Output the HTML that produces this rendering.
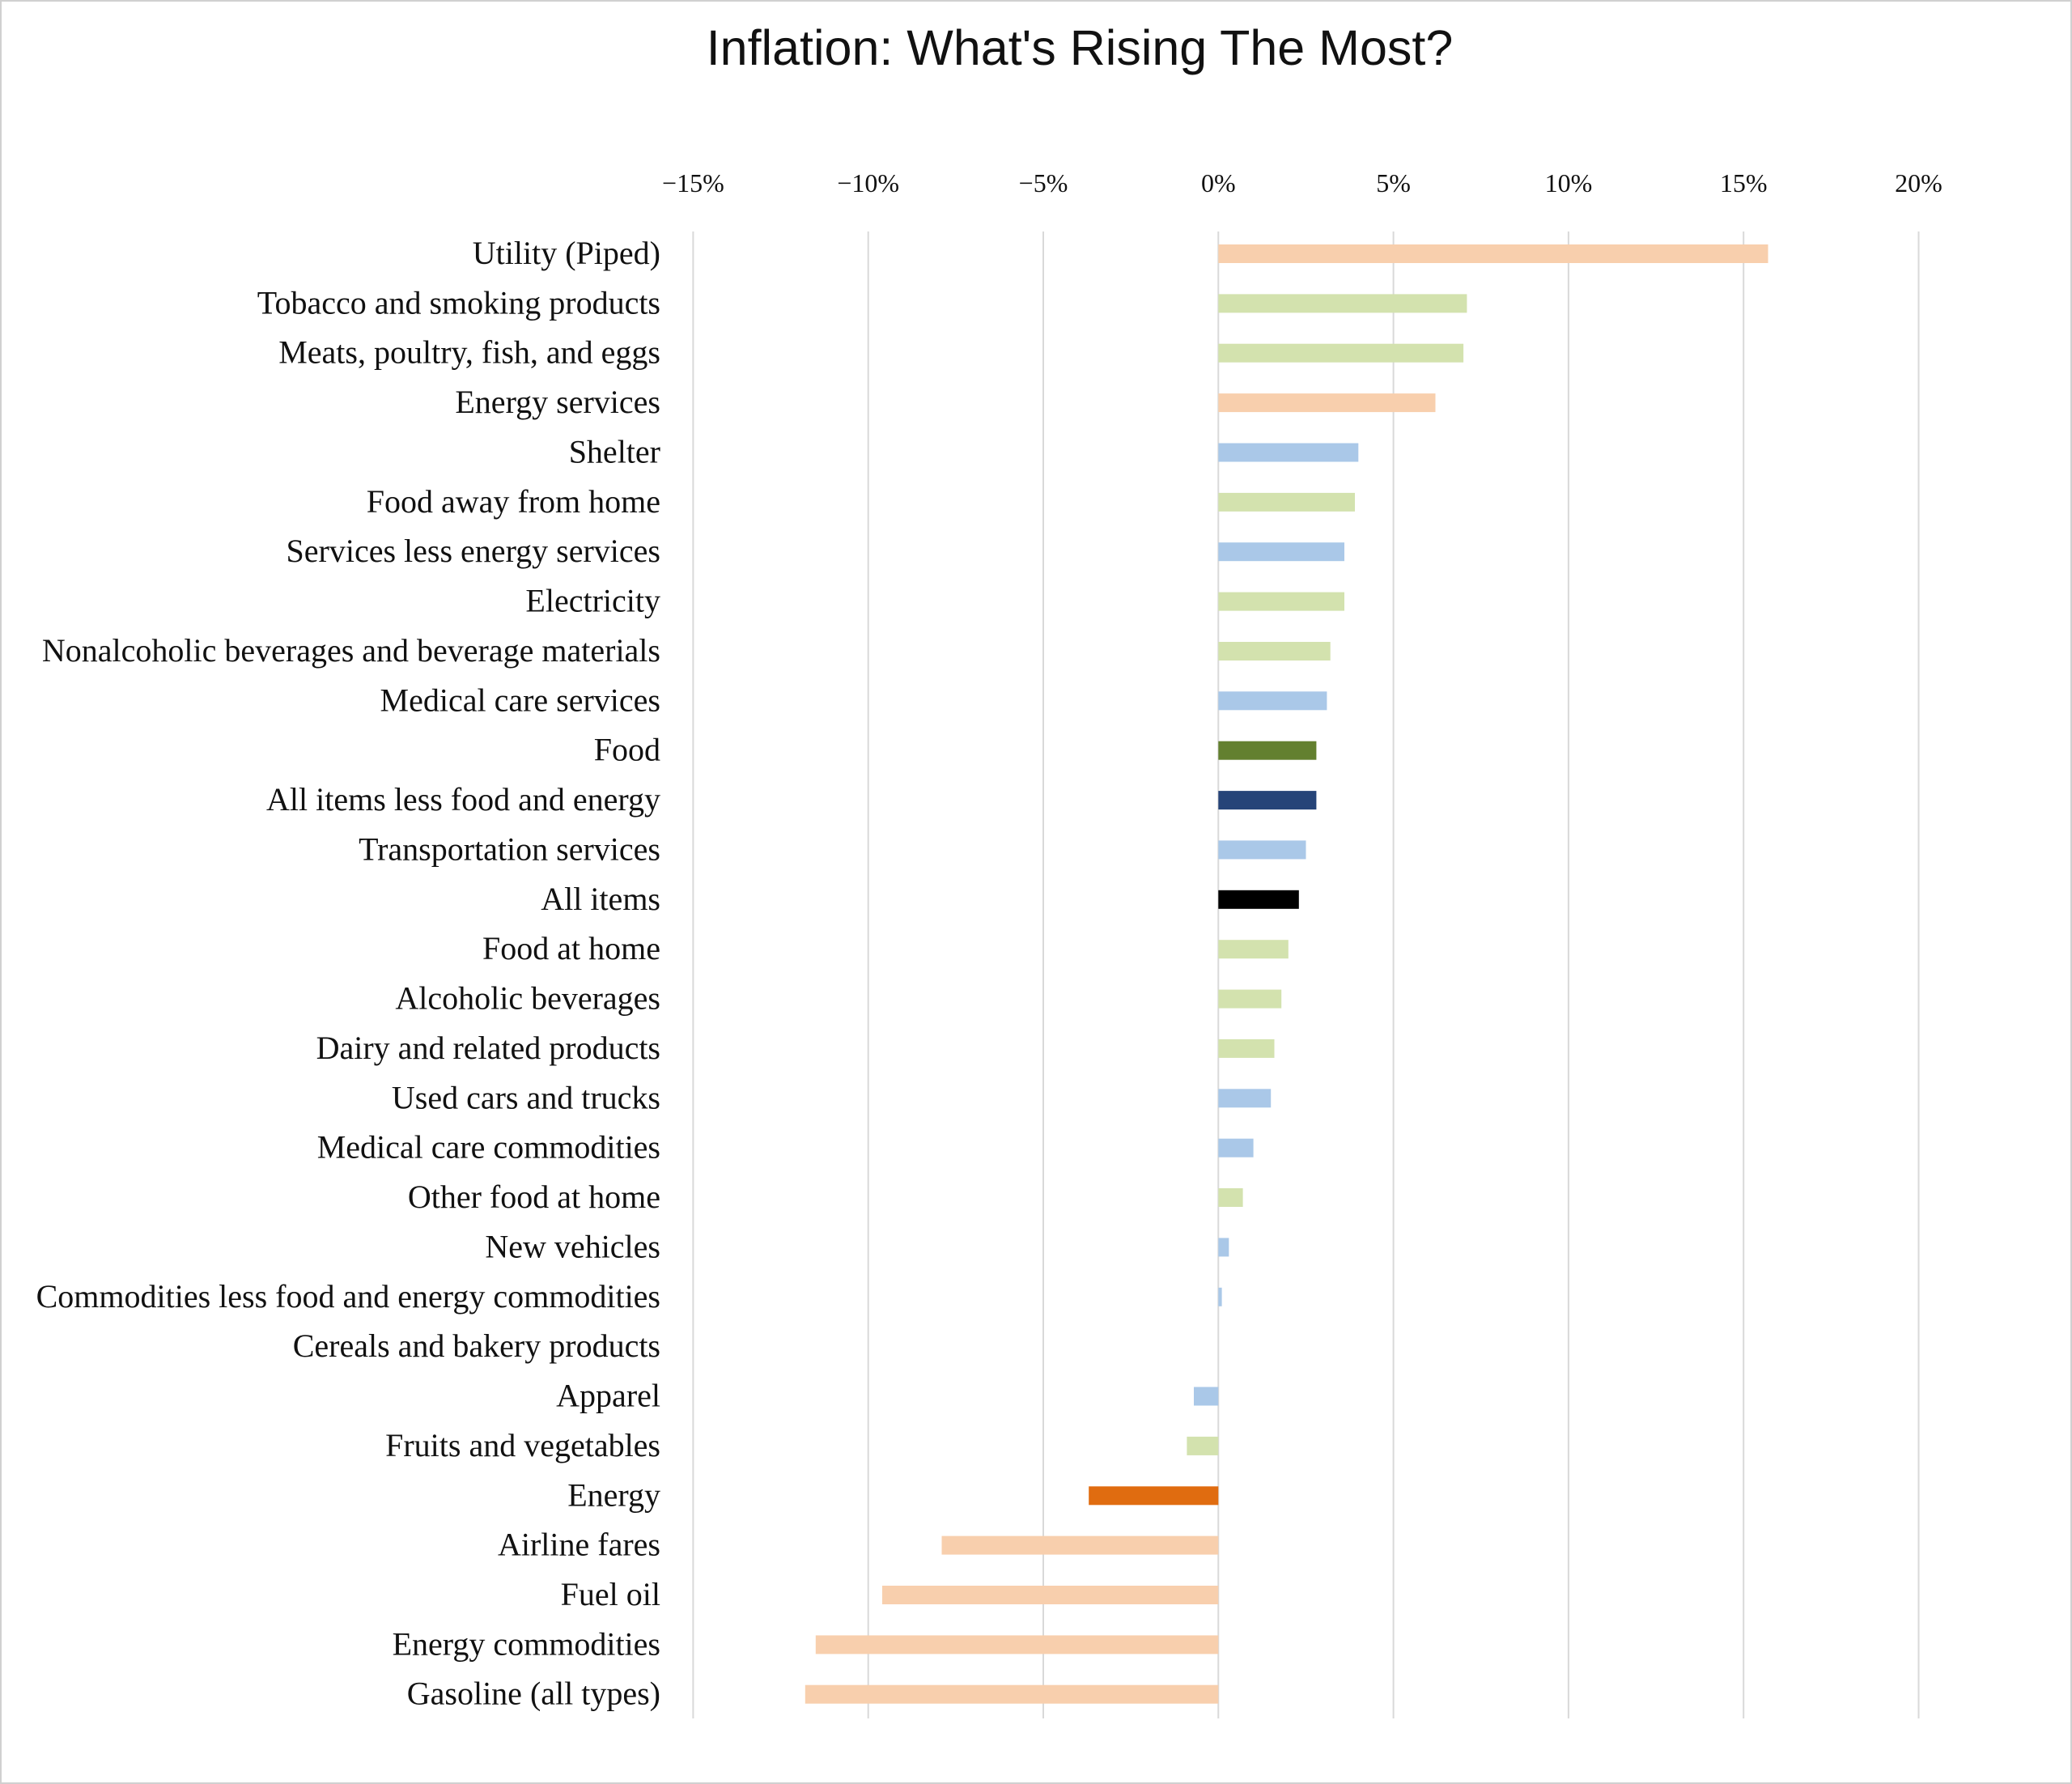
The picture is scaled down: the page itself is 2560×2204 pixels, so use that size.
<!DOCTYPE html>
<html><head><meta charset="utf-8"><style>html,body{margin:0;padding:0;background:#fff}svg{display:block}</style></head><body>
<svg width="2560" height="2204" viewBox="0 0 2560 2204" xmlns="http://www.w3.org/2000/svg">
<rect x="1" y="1" width="2558" height="2202" fill="#fff" stroke="#d0d0d0" stroke-width="2"/>
<text x="1334" y="80" text-anchor="middle" font-family="Liberation Sans, sans-serif" font-size="61" fill="#111">Inflation: What's Rising The Most?</text>
<g stroke="#d9d9d9" stroke-width="2">
<line x1="856.4" y1="286" x2="856.4" y2="2123"/><line x1="1072.7" y1="286" x2="1072.7" y2="2123"/>
<line x1="1289" y1="286" x2="1289" y2="2123"/><line x1="1505.3" y1="286" x2="1505.3" y2="2123"/>
<line x1="1721.6" y1="286" x2="1721.6" y2="2123"/><line x1="1937.9" y1="286" x2="1937.9" y2="2123"/>
<line x1="2154.2" y1="286" x2="2154.2" y2="2123"/><line x1="2370.5" y1="286" x2="2370.5" y2="2123"/>
</g>
<g font-family="Liberation Serif, serif" font-size="32" fill="#111" text-anchor="middle">
<text x="856.4" y="237">−15%</text><text x="1072.7" y="237">−10%</text><text x="1289" y="237">−5%</text>
<text x="1505.3" y="237">0%</text><text x="1721.6" y="237">5%</text><text x="1937.9" y="237">10%</text>
<text x="2154.2" y="237">15%</text><text x="2370.5" y="237">20%</text>
</g>
<g>
<rect x="1505.3" y="302" width="679.2" height="23" fill="#f8cfad"/>
<rect x="1505.3" y="363.4" width="307.1" height="23" fill="#d3e2ae"/>
<rect x="1505.3" y="424.7" width="302.8" height="23" fill="#d3e2ae"/>
<rect x="1505.3" y="486.1" width="268.2" height="23" fill="#f8cfad"/>
<rect x="1505.3" y="547.5" width="173" height="23" fill="#aac8e8"/>
<rect x="1505.3" y="608.9" width="168.7" height="23" fill="#d3e2ae"/>
<rect x="1505.3" y="670.2" width="155.7" height="23" fill="#aac8e8"/>
<rect x="1505.3" y="731.6" width="155.7" height="23" fill="#d3e2ae"/>
<rect x="1505.3" y="793" width="138.4" height="23" fill="#d3e2ae"/>
<rect x="1505.3" y="854.3" width="134.1" height="23" fill="#aac8e8"/>
<rect x="1505.3" y="915.7" width="121.1" height="23" fill="#63802f"/>
<rect x="1505.3" y="977.1" width="121.1" height="23" fill="#264478"/>
<rect x="1505.3" y="1038.4" width="108.2" height="23" fill="#aac8e8"/>
<rect x="1505.3" y="1099.8" width="99.5" height="23" fill="#000"/>
<rect x="1505.3" y="1161.2" width="86.5" height="23" fill="#d3e2ae"/>
<rect x="1505.3" y="1222.6" width="77.9" height="23" fill="#d3e2ae"/>
<rect x="1505.3" y="1283.9" width="69.2" height="23" fill="#d3e2ae"/>
<rect x="1505.3" y="1345.3" width="64.9" height="23" fill="#aac8e8"/>
<rect x="1505.3" y="1406.7" width="43.3" height="23" fill="#aac8e8"/>
<rect x="1505.3" y="1468" width="30.3" height="23" fill="#d3e2ae"/>
<rect x="1505.3" y="1529.4" width="13" height="23" fill="#aac8e8"/>
<rect x="1505.3" y="1590.8" width="4.3" height="23" fill="#aac8e8"/>
<rect x="1475" y="1713.5" width="30.3" height="23" fill="#aac8e8"/>
<rect x="1466.4" y="1774.9" width="38.9" height="23" fill="#d3e2ae"/>
<rect x="1345.2" y="1836.3" width="160.1" height="23" fill="#e06c10"/>
<rect x="1163.5" y="1897.6" width="341.8" height="23" fill="#f8cfad"/>
<rect x="1090" y="1959" width="415.3" height="23" fill="#f8cfad"/>
<rect x="1007.8" y="2020.4" width="497.5" height="23" fill="#f8cfad"/>
<rect x="994.8" y="2081.7" width="510.5" height="23" fill="#f8cfad"/>
</g>
<g font-family="Liberation Serif, serif" font-size="40" fill="#111" text-anchor="end">
<text x="816" y="326">Utility (Piped)</text>
<text x="816" y="387.4">Tobacco and smoking products</text>
<text x="816" y="448.7">Meats, poultry, fish, and eggs</text>
<text x="816" y="510.1">Energy services</text>
<text x="816" y="571.5">Shelter</text>
<text x="816" y="632.9">Food away from home</text>
<text x="816" y="694.2">Services less energy services</text>
<text x="816" y="755.6">Electricity</text>
<text x="816" y="817">Nonalcoholic beverages and beverage materials</text>
<text x="816" y="878.3">Medical care services</text>
<text x="816" y="939.7">Food</text>
<text x="816" y="1001.1">All items less food and energy</text>
<text x="816" y="1062.4">Transportation services</text>
<text x="816" y="1123.8">All items</text>
<text x="816" y="1185.2">Food at home</text>
<text x="816" y="1246.6">Alcoholic beverages</text>
<text x="816" y="1307.9">Dairy and related products</text>
<text x="816" y="1369.3">Used cars and trucks</text>
<text x="816" y="1430.7">Medical care commodities</text>
<text x="816" y="1492">Other food at home</text>
<text x="816" y="1553.4">New vehicles</text>
<text x="816" y="1614.8">Commodities less food and energy commodities</text>
<text x="816" y="1676.1">Cereals and bakery products</text>
<text x="816" y="1737.5">Apparel</text>
<text x="816" y="1798.9">Fruits and vegetables</text>
<text x="816" y="1860.3">Energy</text>
<text x="816" y="1921.6">Airline fares</text>
<text x="816" y="1983">Fuel oil</text>
<text x="816" y="2044.4">Energy commodities</text>
<text x="816" y="2105.7">Gasoline (all types)</text>
</g>
</svg>
</body></html>
